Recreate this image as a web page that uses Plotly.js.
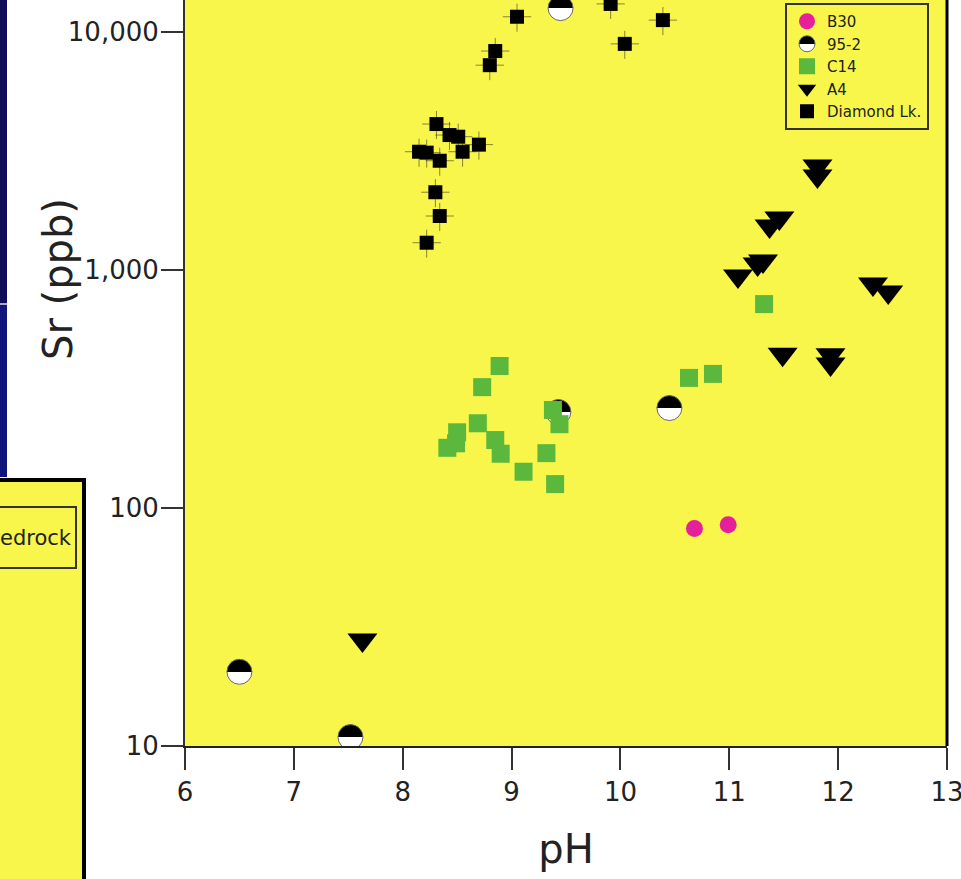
<!DOCTYPE html>
<html>
<head>
<meta charset="utf-8">
<script src="https://cdn.plot.ly/plotly-3.0.1.min.js"></script>
<style>
  html, body { margin: 0; padding: 0; background: #ffffff; }
  #chart { width: 961px; height: 879px; }
</style>
</head>
<body>
<div id="chart"></div>
<script>
// ---- data (pH vs Sr, ppb) ----
var b30_ph = [10.68, 10.99];
var b30_sr = [82, 85];

var p952_ph = [6.50, 7.52, 9.43, 9.45, 10.45];
var p952_sr = [20.5, 10.9, 253, 12600, 263];

var c14_ph = [8.41, 8.49, 8.50, 8.69, 8.73, 8.85, 8.89, 8.90, 9.11, 9.32, 9.38, 9.40, 9.44, 10.63, 10.85, 11.32];
var c14_sr = [179, 187, 208, 227, 322, 193, 395, 169, 142, 170, 258, 126, 225, 352, 366, 719];

var a4_ph = [7.63, 11.08, 11.26, 11.31, 11.37, 11.46, 11.49, 11.81, 11.81, 11.93, 11.93, 12.32, 12.46];
var a4_sr = [27.9, 944, 1060, 1091, 1530, 1652, 443, 2735, 2483, 440, 403, 873, 809];

var dl_ph = [8.15, 8.22, 8.22, 8.30, 8.31, 8.34, 8.34, 8.43, 8.51, 8.55, 8.70, 8.80, 8.85, 9.05, 9.91, 10.04, 10.39];
var dl_sr = [3140, 3112, 1302, 2122, 4104, 2878, 1686, 3690, 3631, 3140, 3363, 7255, 8318, 11590, 13120, 8914, 11220];

var series_names = ['B30', '95-2', 'C14', 'A4', 'Diamond Lk.'];
var y_tickvals = [10, 100, 1000, 10000];
var y_ticktext = ['10', '100', '1,000', '10,000'];
var x_tickvals = [6, 7, 8, 9, 10, 11, 12, 13];

// ---- styling ----
var FONT = 'DejaVu Sans';
var YELLOW = '#f8f64a';
var W = 961, H = 879;
var ML = 185, MR = 14, MT = 0, MB = 133;
var PW = W - ML - MR, PH = H - MT - MB;
function px(x) { return (x - ML) / PW; }
function py(y) { return (H - MB - y) / PH; }

var traces = [
  { type: 'scatter', mode: 'markers', name: series_names[0], x: b30_ph, y: b30_sr,
    marker: { symbol: 'circle', size: 17, color: '#e61f9b' } },
  { type: 'scatter', mode: 'markers', name: series_names[1], x: p952_ph, y: p952_sr,
    marker: { symbol: 'circle', size: 25, color: '#000000',
              gradient: { type: 'vertical', color: '#ffffff' },
              line: { color: '#666666', width: 1 } } },
  { type: 'scatter', mode: 'markers', name: series_names[2], x: c14_ph, y: c14_sr,
    marker: { symbol: 'square', size: 18, color: '#5cb83c' } },
  { type: 'scatter', mode: 'markers', name: series_names[3], x: a4_ph, y: a4_sr,
    marker: { symbol: 'triangle-down', size: 26, color: '#000000' } },
  { type: 'scatter', mode: 'markers', name: series_names[4], x: dl_ph, y: dl_sr,
    marker: { symbol: 'square', size: 14, color: '#000000' },
    error_x: { type: 'constant', value: 0.13, color: 'rgba(60,60,20,0.6)', thickness: 1, width: 0 },
    error_y: { type: 'percent', value: 13.5, color: 'rgba(60,60,20,0.6)', thickness: 1, width: 0 } }
];

var shapes = [
  // slide background pieces on the left
  { type: 'rect', xref: 'paper', yref: 'paper', x0: px(-2), x1: px(7), y0: py(-2), y1: py(303),
    fillcolor: '#0e0e58', line: { width: 0 }, layer: 'above' },
  { type: 'rect', xref: 'paper', yref: 'paper', x0: px(-2), x1: px(7), y0: py(303), y1: py(305),
    fillcolor: '#a8a8c8', line: { width: 0 }, layer: 'above' },
  { type: 'rect', xref: 'paper', yref: 'paper', x0: px(-2), x1: px(7), y0: py(305), y1: py(477),
    fillcolor: '#12147e', line: { width: 0 }, layer: 'above' },
  { type: 'rect', xref: 'paper', yref: 'paper', x0: px(-10), x1: px(84), y0: py(480), y1: py(895),
    fillcolor: YELLOW, line: { color: '#000000', width: 4 }, layer: 'above' },
  { type: 'rect', xref: 'paper', yref: 'paper', x0: px(-10), x1: px(76), y0: py(507), y1: py(568),
    fillcolor: 'rgba(0,0,0,0)', line: { color: '#333333', width: 2 }, layer: 'above' },
  // right frame of the plot
  { type: 'line', xref: 'paper', yref: 'paper', x0: 1, x1: 1, y0: 0, y1: 1,
    line: { color: '#000000', width: 3 }, layer: 'above' }
];

var layout = {
  width: W, height: H,
  margin: { l: ML, r: MR, t: MT, b: MB },
  paper_bgcolor: '#ffffff',
  plot_bgcolor: YELLOW,
  font: { family: FONT, color: '#222222' },
  showlegend: true,
  legend: {
    x: px(785), y: py(3), xanchor: 'left', yanchor: 'top',
    bgcolor: YELLOW, bordercolor: '#333333', borderwidth: 2,
    font: { family: FONT, size: 15, color: '#222222' }
  },
  xaxis: {
    range: [6, 13], tickvals: x_tickvals,
    ticks: 'outside', ticklen: 22, tickwidth: 2, tickcolor: '#333333',
    ticklabeloverflow: 'allow',
    showline: true, linecolor: '#222222', linewidth: 2,
    showgrid: false, zeroline: false,
    tickfont: { family: FONT, size: 26, color: '#222222' },
    title: { text: 'pH', font: { family: FONT, size: 40, color: '#222222' }, standoff: 29 }
  },
  yaxis: {
    type: 'log', range: [1, 1 + PH / 238],
    tickvals: y_tickvals, ticktext: y_ticktext,
    ticks: 'outside', ticklen: 22, tickwidth: 2, tickcolor: '#333333',
    ticklabelstandoff: -3,
    showline: true, linecolor: '#333333', linewidth: 2,
    showgrid: false, zeroline: false,
    tickfont: { family: FONT, size: 26, color: '#222222' }
  },
  shapes: shapes,
  annotations: [
    { text: 'Sr (ppb)', xref: 'paper', yref: 'paper', x: px(58), y: py(279),
      xanchor: 'center', yanchor: 'middle', textangle: -90, showarrow: false,
      font: { family: FONT, size: 40, color: '#222222' } },
    { text: 'edrock', xref: 'paper', yref: 'paper', x: px(-2), y: py(538),
      xanchor: 'left', yanchor: 'middle', showarrow: false,
      font: { family: FONT, size: 21, color: '#222222' } }
  ]
};

Plotly.newPlot('chart', traces, layout, { staticPlot: true }).then(function (gd) {
  // make the 95-2 gradient a hard split: black top half, white bottom half
  var grads = gd.querySelectorAll('linearGradient');
  grads.forEach(function (g) {
    g.querySelectorAll('stop').forEach(function (s) { s.setAttribute('offset', '50%'); });
  });
});
</script>
</body>
</html>
